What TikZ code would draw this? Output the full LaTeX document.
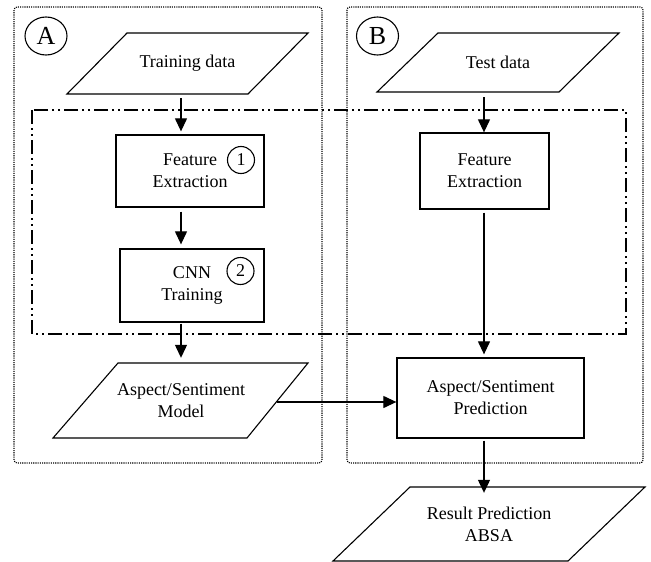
\documentclass[tikz,border=0pt]{standalone}
\usepackage{fontspec}
\setmainfont{Liberation Serif}
\usetikzlibrary{arrows.meta,shapes.geometric}
\begin{document}
\begin{tikzpicture}[x=1pt,y=-1pt,
 txt/.style={font=\fontsize{18}{22}\selectfont, align=center, inner sep=0pt},
 procbox/.style={draw, line width=1.3pt, txt},
 para/.style={line width=1.1pt, line join=miter},
 num/.style={draw, circle, line width=1.1pt, inner sep=0pt, minimum size=27pt, font=\fontsize{18}{18}\selectfont},
 lab/.style={draw, ellipse, line width=1.1pt, inner sep=0pt, minimum width=42pt, minimum height=38pt, font=\fontsize{26}{26}\selectfont},
 arr/.style={line width=1.2pt, -{Triangle[length=13pt,width=12pt]}},
 dotbox/.style={line width=1.1pt, dash pattern=on 1.1pt off 1.1pt, rounded corners=3pt},
 dashdot/.style={line width=1.5pt, dash pattern=on 14pt off 4pt on 2pt off 4pt on 2pt off 4pt}
]
\useasboundingbox (0,0) rectangle (651,562);

% group frames
\draw[dotbox] (14,7) rectangle (322,463);
\draw[dotbox] (347,7) rectangle (643,463);
\draw[dashdot] (32,110) rectangle (626,334);

% labels
\node[lab] (labA) at (46,36) {A};
\node[lab] (labB) at (377.5,36) {B};

% parallelograms
\draw[para] (127,33) -- (308,33) -- (248,94) -- (67,94) -- cycle;
\node[txt, minimum height=61pt] (train) at (187.5,63.5) {Training data};
\draw[para] (438,33) -- (619,33) -- (559,92) -- (377,92) -- cycle;
\node[txt, minimum height=59pt] (test) at (498,62.5) {Test data};
\draw[para] (118,363) -- (308,363) -- (247,438) -- (53,438) -- cycle;
\node[txt, minimum height=75pt] (model) at (181,400.5) {Aspect/Sentiment\\Model};
\draw[para] (410,487) -- (645,487) -- (568,561) -- (333,561) -- cycle;
\node[txt, minimum height=74pt] (result) at (489,524) {Result Prediction\\ABSA};

% process boxes
\node[procbox, minimum width=148pt, minimum height=72pt] (fe1) at (190,171) {Feature\\Extraction};
\node[procbox, minimum width=144pt, minimum height=73pt] (cnn) at (192,285.5) {CNN\\Training};
\node[procbox, minimum width=129pt, minimum height=76pt] (fe2) at (484.5,171) {Feature\\Extraction};
\node[procbox, minimum width=187pt, minimum height=80pt] (pred) at (490.5,398) {Aspect/Sentiment\\Prediction};

% step numbers
\node[num] (n1) at (241,160) {1};
\node[num] (n2) at (240.5,271) {2};

% connectors
\coordinate (colA) at (181,0);
\coordinate (colB) at (484,0);
\coordinate (mR) at (276.5,402);
\draw[arr, shorten <=4pt, shorten >=3pt] (train.south -| colA) -- (fe1.north -| colA);
\draw[arr, shorten <=4pt, shorten >=4pt] (fe1.south -| colA) -- (cnn.north -| colA);
\draw[arr, shorten <=1pt, shorten >=5pt] (cnn.south -| colA) -- (model.north -| colA);
\draw[arr, shorten <=5pt] (test.south -| colB) -- (fe2.north -| colB);
\draw[arr, shorten <=3pt, shorten >=3pt] (fe2.south -| colB) -- (pred.north -| colB);
\draw[arr] (mR) -- (pred.west |- mR);
\draw[arr, shorten <=2pt, shorten >=-6pt] (pred.south -| colB) -- (result.north -| colB);
\end{tikzpicture}
\end{document}
